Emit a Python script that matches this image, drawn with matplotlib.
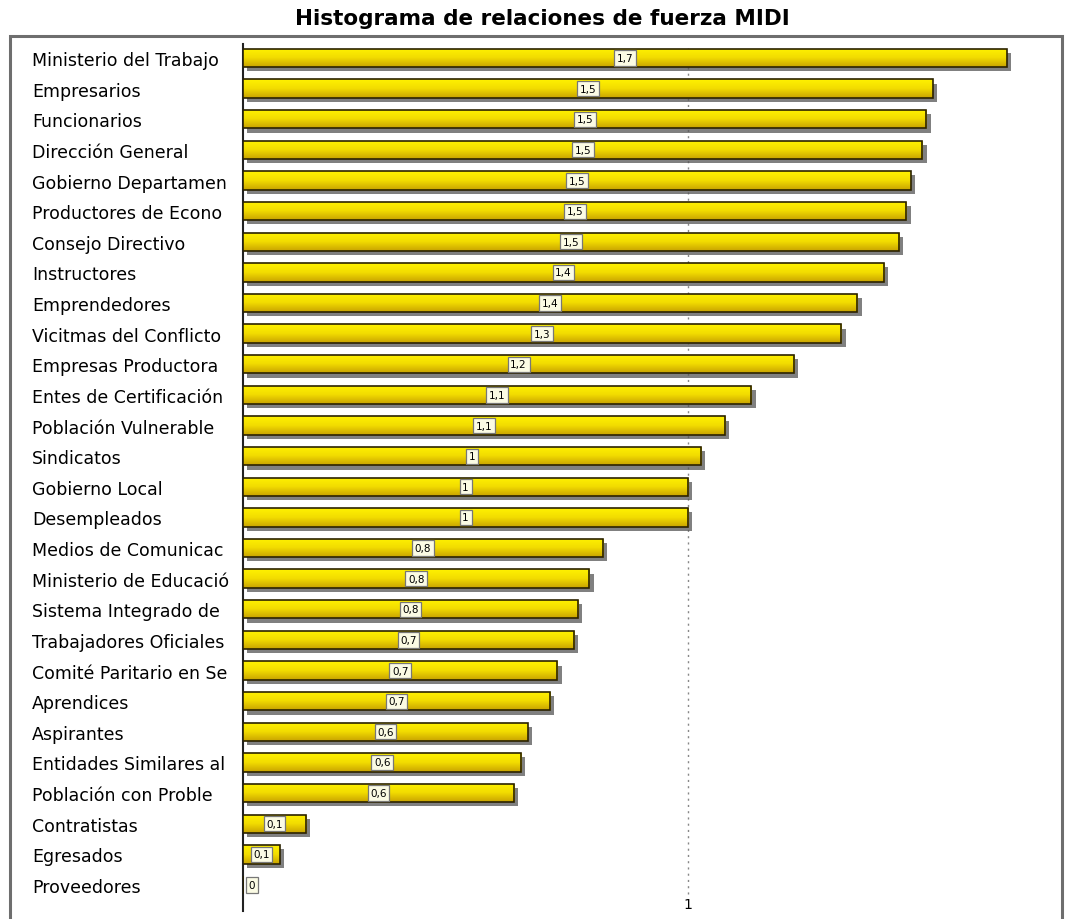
import numpy as np
import matplotlib
matplotlib.use('Agg')
import matplotlib.pyplot as plt
import matplotlib.patheffects as pe
from matplotlib.patches import Rectangle
from matplotlib.colors import LinearSegmentedColormap

plt.rcParams['font.family'] = ['DejaVu Sans']

# actores y su fuerza MIDI
actores = ['Ministerio del Trabajo', 'Empresarios', 'Funcionarios', 'Dirección General',
           'Gobierno Departamen', 'Productores de Econo', 'Consejo Directivo', 'Instructores',
           'Emprendedores', 'Vicitmas del Conflicto', 'Empresas Productora',
           'Entes de Certificación', 'Población Vulnerable', 'Sindicatos', 'Gobierno Local',
           'Desempleados', 'Medios de Comunicac', 'Ministerio de Educació',
           'Sistema Integrado de', 'Trabajadores Oficiales', 'Comité Paritario en Se',
           'Aprendices', 'Aspirantes', 'Entidades Similares al', 'Población con Proble',
           'Contratistas', 'Egresados', 'Proveedores']
fuerza = [1.715, 1.549, 1.535, 1.526, 1.50, 1.49, 1.474, 1.44, 1.38, 1.344, 1.238,
          1.142, 1.083, 1.029, 1.0, 1.0, 0.809, 0.778, 0.753, 0.744, 0.706, 0.69,
          0.64, 0.625, 0.609, 0.142, 0.083, 0.0]

W, H = 1067, 920
fig = plt.figure(figsize=(W / 100, H / 100), dpi=100)

# marco exterior
fig.patches.append(Rectangle((10 / W, -0.05), (1062 - 10) / W, 1.05 - 37 / H,
                             transform=fig.transFigure, fill=False,
                             edgecolor='#6e6e6e', linewidth=2.2))
fig.text(542 / W, 1 - 19 / H, 'Histograma de relaciones de fuerza MIDI',
         ha='center', va='center', fontsize=15.5, fontweight='bold')

ax = fig.add_axes([243 / W, 1 - 912 / H, (1060 - 243) / W, (912 - 45) / H])
y = np.arange(len(actores))
alto = 0.6

bars = ax.barh(y, fuerza, height=alto, color='#f0dc00', edgecolor='none', zorder=2)
for b in bars:
    b.set_path_effects([pe.SimplePatchShadow(offset=(3, -3), shadow_rgbFace='#555555', alpha=0.75),
                        pe.Normal()])

# degradado vertical de cada barra
cmap = LinearSegmentedColormap.from_list('amarillo', ['#fff200', '#f2dc00', '#c9a400'])
grad = np.linspace(0, 1, 50).reshape(-1, 1)
for b, yi, v in zip(bars, y, fuerza):
    if v <= 0:
        continue
    im = ax.imshow(grad, cmap=cmap, aspect='auto', zorder=3,
                   extent=(0, v, yi + alto / 2, yi - alto / 2), interpolation='bilinear')
    im.set_clip_path(b)
ax.barh(y, fuerza, height=alto, color='none', edgecolor='#2b2200', linewidth=1.2, zorder=4)

# etiquetas de valor
for yi, v in zip(y, fuerza):
    txt = ('%.1f' % round(v, 1)).rstrip('0').rstrip('.').replace('.', ',')
    ax.text(max(v / 2, 0.02), yi, txt, ha='center', va='center', fontsize=7.5, zorder=6,
            bbox=dict(boxstyle='square,pad=0.25', facecolor='#fbfbe4', edgecolor='#777777',
                      linewidth=0.9))

ax.axvline(1, color='#888888', linestyle=(0, (1.5, 3)), linewidth=1, zorder=1,
           ymin=0.02, ymax=1)

ax.set_xlim(0, 1.835)
ax.set_ylim(27.85, -0.457)
ax.set_yticks(y)
ax.set_yticklabels(actores, ha='left', fontsize=12.5)
ax.tick_params(axis='y', length=0, pad=152)
ax.set_xticks([1])
ax.set_xticklabels(['1'], fontsize=10)
ax.tick_params(axis='x', length=0, pad=-10)

for s in ['top', 'right', 'bottom']:
    ax.spines[s].set_visible(False)
ax.spines['left'].set_linewidth(1.5)
ax.spines['left'].set_color('#222222')
ax.set_facecolor('none')

fig.savefig('out.png', dpi=100)
